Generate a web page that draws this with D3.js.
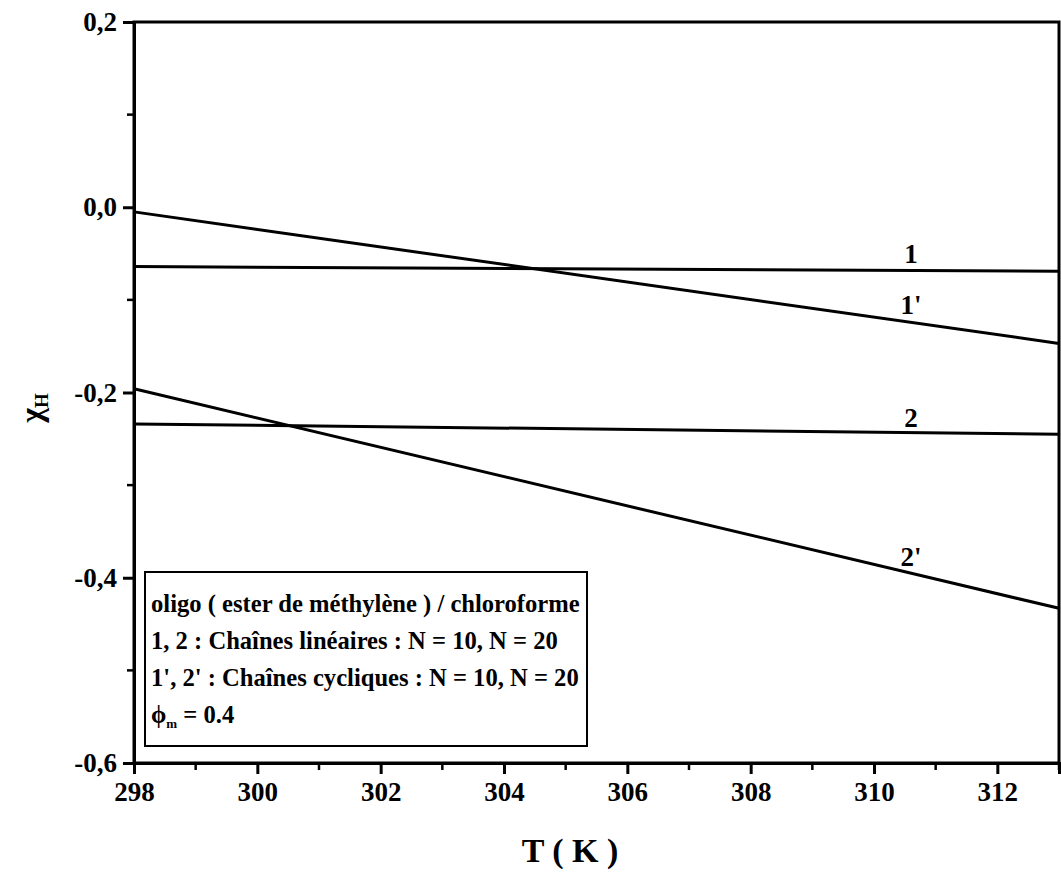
<!DOCTYPE html>
<html>
<head>
<meta charset="utf-8">
<script src="https://cdn.jsdelivr.net/npm/d3@7"></script>
<style>
  body { margin: 0; background: #fff; }
  svg { display: block; }
  svg text { font-family: "Liberation Serif", Tinos, "DejaVu Serif", serif !important; font-weight: 700; fill: #000; }
</style>
</head>
<body>
<div id="chart"></div>
<script>
const width = 1061;
const height = 876;
const margin = { top: 22, right: 2, bottom: 113, left: 134 };

// data (T in K, chi_H)
const temps = [298, 313];
const line1 = [-0.064, -0.069];
const line1p = [-0.005, -0.147];
const line2 = [-0.234, -0.245];
const line2p = [-0.196, -0.433];
const seriesNames = ["1", "1'", "2", "2'"];
const labelPos = [[310.6, -0.060], [310.6, -0.115], [310.6, -0.237], [310.6, -0.387]];

const xTicks = [298, 300, 302, 304, 306, 308, 310, 312];
const xMinor = [299, 301, 303, 305, 307, 309, 311, 313];
const yTicks = [0.2, 0.0, -0.2, -0.4, -0.6];
const yMinor = [0.1, -0.1, -0.3, -0.5];

const legendLines = [
    "oligo ( ester de méthylène ) / chloroforme",
    "1, 2 : Chaînes linéaires : N = 10, N = 20",
    "1', 2' : Chaînes cycliques : N = 10, N = 20"
];

const svg = d3.select("#chart").append("svg").attr("width", width).attr("height", height);

const x = d3.scaleLinear().domain([298, 313]).range([margin.left, width - margin.right]);
const y = d3.scaleLinear().domain([-0.6, 0.2]).range([height - margin.bottom, margin.top]);

const fmt = d => d3.format(".1f")(d).replace(".", ",").replace("−", "-");

// frame
svg.append("rect")
    .attr("x", x(298)).attr("y", y(0.2))
    .attr("width", x(313) - x(298)).attr("height", y(-0.6) - y(0.2))
    .attr("fill", "none").attr("stroke", "#000").attr("stroke-width", 3);

// x axis
const xAxis = svg.append("g").attr("transform", `translate(0,${y(-0.6)})`)
    .call(d3.axisBottom(x).tickValues(xTicks).tickSize(11).tickPadding(8).tickFormat(d3.format("d")));
xAxis.attr("font-family", null);
xAxis.select(".domain").attr("stroke-width", 3);
xAxis.selectAll(".tick line").attr("stroke-width", 3);
xAxis.selectAll("text").attr("font-size", 27);
svg.append("g").attr("transform", `translate(0,${y(-0.6)})`)
    .selectAll("line").data(xMinor).join("line")
    .attr("x1", d => x(d)).attr("x2", d => x(d)).attr("y1", 0).attr("y2", 7)
    .attr("stroke", "#000").attr("stroke-width", 2.5);

// y axis
const yAxis = svg.append("g").attr("transform", `translate(${x(298)},0)`)
    .call(d3.axisLeft(y).tickValues(yTicks).tickSize(11).tickPadding(6).tickFormat(fmt));
yAxis.attr("font-family", null);
yAxis.select(".domain").attr("stroke-width", 3);
yAxis.selectAll(".tick line").attr("stroke-width", 3);
yAxis.selectAll("text").attr("font-size", 27);
svg.append("g").attr("transform", `translate(${x(298)},0)`)
    .selectAll("line").data(yMinor).join("line")
    .attr("x1", -7).attr("x2", 0).attr("y1", d => y(d)).attr("y2", d => y(d))
    .attr("stroke", "#000").attr("stroke-width", 2.5);

// curves
const line = d3.line().x((d, i) => x(temps[i])).y(d => y(d));
[line1, line1p, line2, line2p].forEach(s => {
    svg.append("path").datum(s).attr("d", line)
        .attr("fill", "none").attr("stroke", "#000").attr("stroke-width", 3);
});
svg.selectAll(".lbl").data(seriesNames).join("text")
    .attr("x", (d, i) => x(labelPos[i][0])).attr("y", (d, i) => y(labelPos[i][1]))
    .attr("text-anchor", "middle").attr("font-size", 27).text(d => d);

// legend box
const lg = svg.append("g").attr("transform", "translate(145,572)");
lg.append("rect").attr("width", 442).attr("height", 174)
    .attr("fill", "#fff").attr("stroke", "#000").attr("stroke-width", 2);
legendLines.forEach((t, i) => {
    lg.append("text").attr("x", 6).attr("y", 40 + i * 37).attr("font-size", 24.6).text(t);
});
const phi = lg.append("text").attr("x", 6).attr("y", 151).attr("font-size", 24.6);
phi.append("tspan").text("ϕ");
phi.append("tspan").attr("font-size", 13).attr("dy", 5).text("m");
phi.append("tspan").attr("dy", -5).text(" = 0.4");

// axis titles
svg.append("text").attr("x", 570).attr("y", 862).attr("text-anchor", "middle")
    .attr("font-size", 34).text("T ( K )");
const yt = svg.append("text").attr("transform", "translate(42,408) rotate(-90)")
    .attr("text-anchor", "middle").attr("font-size", 32);
yt.append("tspan").text("χ");
yt.append("tspan").attr("font-size", 19).attr("dy", 6).text("H");
</script>
</body>
</html>
